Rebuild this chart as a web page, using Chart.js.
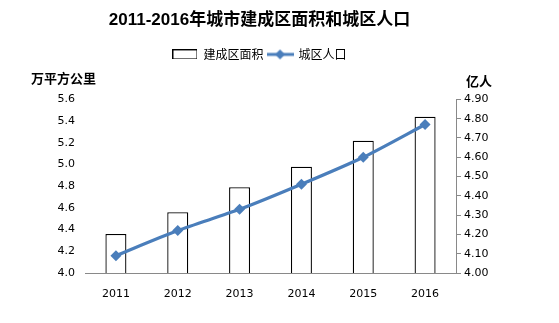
<!DOCTYPE html>
<html>
<head>
<meta charset="utf-8">
<script src="https://cdn.jsdelivr.net/npm/chart.js@4.4.1/dist/chart.umd.min.js"></script>
<style>
  html, body { margin: 0; padding: 0; background: #fff; }
  #wrap { width: 559px; height: 323px; }
</style>
</head>
<body>
<div id="wrap"><canvas id="c" width="559" height="323"></canvas></div>
<script>
// 年份
const years = ['2011', '2012', '2013', '2014', '2015', '2016'];
// 建成区面积（万平方公里）
const builtArea = [4.36, 4.56, 4.79, 4.98, 5.22, 5.44];
// 城区人口（亿人）
const urbanPop = [4.09, 4.22, 4.33, 4.46, 4.60, 4.77];
// 坐标轴范围
const leftAxis = { min: 4.0, max: 5.6, step: 0.2 };
const rightAxis = { min: 4.0, max: 4.9, step: 0.1 };

const CJK = '"Noto Sans CJK SC", "Liberation Sans", sans-serif';
const NUM = '"DejaVu Sans", "Noto Sans CJK SC", sans-serif';
const LINE_COLOR = '#4A7EBB';
const AXIS_COLOR = '#898989';

// legend swatches
function barSwatch() {
  const c = document.createElement('canvas');
  c.width = 25; c.height = 10;
  const g = c.getContext('2d');
  g.fillStyle = '#fff'; g.fillRect(0, 0, 25, 10);
  g.strokeStyle = '#000'; g.lineWidth = 1;
  g.strokeRect(0.5, 0.5, 24, 9);
  return c;
}
function lineSwatch() {
  const c = document.createElement('canvas');
  c.width = 27; c.height = 12;
  const g = c.getContext('2d');
  g.strokeStyle = LINE_COLOR; g.lineWidth = 3;
  g.beginPath(); g.moveTo(0, 6); g.lineTo(27, 6); g.stroke();
  g.fillStyle = LINE_COLOR;
  g.beginPath(); g.moveTo(13.5, 1); g.lineTo(18.5, 6); g.lineTo(13.5, 11); g.lineTo(8.5, 6); g.closePath(); g.fill();
  return c;
}

// unit labels above the two value axes
const unitTitles = {
  id: 'unitTitles',
  afterDraw(chart) {
    const ctx = chart.ctx;
    ctx.save();
    ctx.fillStyle = '#000';
    ctx.font = 'bold 13px ' + CJK;
    ctx.textAlign = 'center';
    ctx.textBaseline = 'middle';
    ctx.fillText('万平方公里', 63.5, 78.5);
    ctx.fillText('亿人', 479, 81.5);
    ctx.restore();
  }
};

new Chart(document.getElementById('c'), {
  data: {
    labels: years,
    datasets: [
      {
        type: 'bar',
        label: '建成区面积',
        data: builtArea,
        xAxisID: 'x',
        yAxisID: 'y',
        backgroundColor: '#ffffff',
        borderColor: '#000000',
        borderWidth: 1.3,
        categoryPercentage: 1.0,
        barPercentage: 0.34,
        order: 2
      },
      {
        type: 'line',
        label: '城区人口',
        data: urbanPop,
        xAxisID: 'x',
        yAxisID: 'y1',
        borderColor: LINE_COLOR,
        backgroundColor: LINE_COLOR,
        borderWidth: 3.2,
        pointStyle: 'rectRot',
        pointRadius: 5.5,
        pointHoverRadius: 5.5,
        pointBorderWidth: 0,
        tension: 0.25,
        fill: false,
        order: 1
      }
    ]
  },
  options: {
    responsive: false,
    animation: false,
    devicePixelRatio: 1,
    layout: { padding: { left: 0, right: 40, top: 0, bottom: 0 } },
    plugins: {
      tooltip: { enabled: false },
      title: {
        display: true,
        text: '2011-2016年城市建成区面积和城区人口',
        color: '#000',
        font: { family: '"Liberation Sans", "Noto Sans CJK SC", sans-serif', size: 17, weight: 'bold' },
        padding: { top: 10, bottom: 14 }
      },
      legend: {
        display: true,
        position: 'top',
        labels: {
          color: '#000',
          font: { family: CJK, size: 12 },
          usePointStyle: true,
          pointStyleWidth: 25,
          boxHeight: 12,
          padding: 4,
          generateLabels() {
            return [
              { text: '建成区面积', pointStyle: barSwatch(), fillStyle: '#fff', strokeStyle: '#000', lineWidth: 0, datasetIndex: 0, fontColor: '#000' },
              { text: '城区人口', pointStyle: lineSwatch(), fillStyle: LINE_COLOR, strokeStyle: LINE_COLOR, lineWidth: 0, datasetIndex: 1, fontColor: '#000' }
            ];
          }
        }
      }
    },
    scales: {
      x: {
        type: 'category',
        offset: true,
        grid: { display: false },
        border: { display: true, color: AXIS_COLOR, width: 1 },
        ticks: { color: '#000', font: { family: NUM, size: 11 }, padding: 7, maxRotation: 0 },
        afterFit(s) { s.height = 50; }
      },
      gap: {
        // empty band between the legend and the plot
        type: 'category',
        position: 'top',
        labels: [''],
        grid: { display: false },
        border: { display: false },
        ticks: { display: false },
        afterFit(s) { s.height = 29; }
      },
      y: {
        position: 'left',
        min: leftAxis.min,
        max: leftAxis.max,
        grid: { display: false, drawTicks: false },
        border: { display: false },
        ticks: {
          stepSize: leftAxis.step,
          color: '#000',
          font: { family: NUM, size: 11 },
          padding: 10,
          callback: v => Number(v).toFixed(1)
        },
        afterFit(s) { s.width = 85; }
      },
      y1: {
        position: 'right',
        min: rightAxis.min,
        max: rightAxis.max,
        grid: { display: true, drawOnChartArea: false, drawTicks: true, tickLength: 5, color: AXIS_COLOR },
        border: { display: true, color: AXIS_COLOR, width: 1 },
        ticks: {
          stepSize: rightAxis.step,
          color: '#000',
          font: { family: NUM, size: 11 },
          padding: 3,
          callback: v => Number(v).toFixed(2)
        },
        afterFit(s) { s.width = 63; }
      }
    }
  },
  plugins: [unitTitles]
});
</script>
</body>
</html>
